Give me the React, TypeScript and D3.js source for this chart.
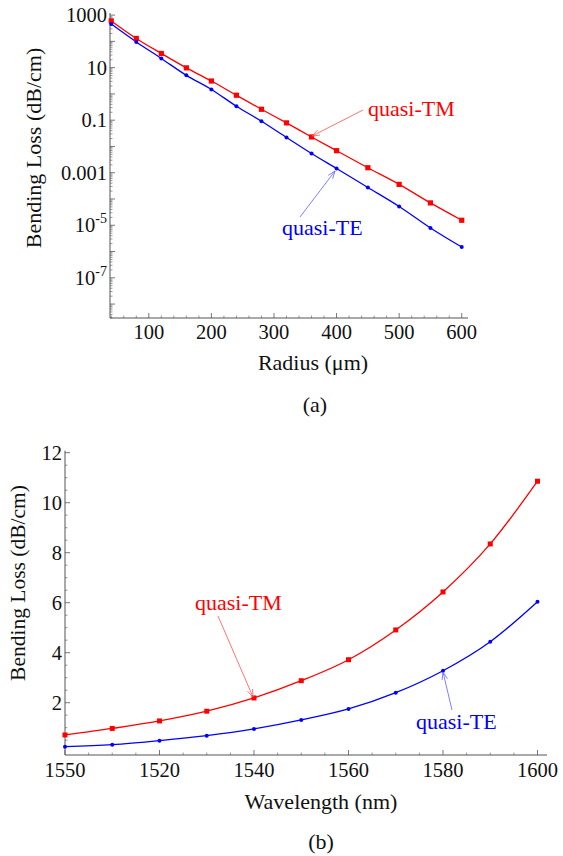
import React from "react";
import * as d3 from "d3";

// ---- Data: panel (a) ----
const radius = [40, 80, 120, 160, 200, 240, 280, 320, 360, 400, 450, 500, 550, 600];
const lossTM_a = [600, 129, 34.7, 9.8, 3.1, 0.89, 0.26, 0.079, 0.023, 0.0069, 0.00155, 3.6e-4, 7.1e-5, 1.55e-5];
const lossTE_a = [457, 95, 22.4, 5.1, 1.48, 0.34, 0.091, 0.022, 0.0054, 0.00145, 2.75e-4, 5.2e-5, 7.9e-6, 1.48e-6];
const radiusTicks = [100, 200, 300, 400, 500, 600];
const logLabelExps = [3, 1, -1, -3, -5, -7];

// ---- Data: panel (b) ----
const wavelength = [1500, 1510, 1520, 1530, 1540, 1550, 1560, 1570, 1580, 1590, 1600];
const lossTM_b = [0.71, 0.97, 1.27, 1.66, 2.19, 2.88, 3.72, 4.91, 6.43, 8.35, 10.86];
const lossTE_b = [0.24, 0.32, 0.48, 0.68, 0.95, 1.31, 1.75, 2.4, 3.28, 4.44, 6.04];
const wlTicks = [1500, 1520, 1540, 1560, 1580, 1600];
const wlTickLabels = ["1550", "1520", "1540", "1560", "1580", "1600"];
const lossTicks = [2, 4, 6, 8, 10, 12];

const FONT = '"Liberation Serif"';
const AX = "#555";
const RED = "#ff0000";
const BLUE = "#0000ff";

function T(props: any) {
  const { style, ...rest } = props;
  return <text fontFamily="Liberation Serif" {...rest} style={{ fontFamily: FONT, ...(style || {}) }} />;
}

function Arrow({ x1, y1, x2, y2, color }: { x1: number; y1: number; x2: number; y2: number; color: string }) {
  const ang = Math.atan2(y2 - y1, x2 - x1);
  const L = 8;
  const a = 0.35;
  const p1 = [x2 - L * Math.cos(ang - a), y2 - L * Math.sin(ang - a)];
  const p2 = [x2 - L * Math.cos(ang + a), y2 - L * Math.sin(ang + a)];
  return (
    <g stroke={color} strokeWidth={0.8} fill="none">
      <line x1={x1} y1={y1} x2={x2} y2={y2} />
      <polyline points={`${p1[0]},${p1[1]} ${x2},${y2} ${p2[0]},${p2[1]}`} />
    </g>
  );
}

function PanelA() {
  const x = d3.scaleLinear().domain([38, 610]).range([110, 468]);
  const y = d3.scaleLog().domain([Math.pow(10, -8.53), Math.pow(10, 3.08)]).range([318, 13]);
  const line = d3
    .line<number>()
    .x((_, i) => x(radius[i]))
    .curve(d3.curveMonotoneX);
  const tmPath = line.y((d) => y(d))(lossTM_a) || "";
  const tePath = line.y((d) => y(d))(lossTE_a) || "";
  const x0 = 110;
  const y0 = 318;
  const minorX = d3.range(40, 610, 20).filter((v) => v % 100 !== 0);
  const majorY: number[] = d3.range(-8, 4);
  const minorY: number[] = [];
  for (let e = -9; e <= 3; e++) {
    for (let m = 2; m <= 9; m++) {
      const v = m * Math.pow(10, e);
      if (y(v) <= y0 && y(v) >= 13) minorY.push(v);
    }
  }
  const labelFor = (e: number) => {
    if (e >= 0) return <tspan>{String(Math.pow(10, e))}</tspan>;
    if (e >= -3) return <tspan>{Math.pow(10, e).toFixed(-e)}</tspan>;
    return (
      <>
        <tspan>10</tspan>
        <tspan fontSize={14} dy={-9}>{`-${-e}`}</tspan>
      </>
    );
  };
  return (
    <g>
      <line x1={x0} y1={13} x2={x0} y2={y0} stroke={AX} strokeWidth={1} />
      <line x1={x0} y1={y0} x2={468} y2={y0} stroke={AX} strokeWidth={1} />
      {majorY.map((e) => (
        <line key={"my" + e} x1={x0} x2={x0 + 5} y1={y(Math.pow(10, e))} y2={y(Math.pow(10, e))} stroke={AX} strokeWidth={0.8} />
      ))}
      {minorY.map((v, i) => (
        <line key={"ny" + i} x1={x0} x2={x0 + 2.5} y1={y(v)} y2={y(v)} stroke={AX} strokeWidth={0.6} />
      ))}
      {radiusTicks.map((v) => (
        <line key={"mx" + v} x1={x(v)} x2={x(v)} y1={y0} y2={y0 - 5} stroke={AX} strokeWidth={0.8} />
      ))}
      {minorX.map((v) => (
        <line key={"nx" + v} x1={x(v)} x2={x(v)} y1={y0} y2={y0 - 2.5} stroke={AX} strokeWidth={0.6} />
      ))}
      {logLabelExps.map((e) => (
        <T key={"ly" + e} x={107} y={y(Math.pow(10, e)) + 7} textAnchor="end" fontSize={20.5} fill="#111">
          {labelFor(e)}
        </T>
      ))}
      {radiusTicks.map((v) => (
        <T key={"lx" + v} x={x(v)} y={339} textAnchor="middle" fontSize={20.5} fill="#111">
          {v}
        </T>
      ))}
      <path d={tmPath} fill="none" stroke={RED} strokeWidth={1.3} />
      <path d={tePath} fill="none" stroke={BLUE} strokeWidth={1.3} />
      {lossTM_a.map((d, i) => (
        <rect key={"tm" + i} x={x(radius[i]) - 2.6} y={y(d) - 2.6} width={5.2} height={5.2} fill={RED} />
      ))}
      {lossTE_a.map((d, i) => (
        <circle key={"te" + i} cx={x(radius[i])} cy={y(d)} r={2} fill={BLUE} />
      ))}
      <Arrow x1={363} y1={110} x2={312} y2={136} color="#ff5050" />
      <Arrow x1={300} y1={217} x2={335} y2={171} color="#6060ff" />
      <T x={368} y={116} fontSize={22} fill={RED}>quasi-TM</T>
      <T x={282} y={235} fontSize={22} fill={BLUE}>quasi-TE</T>
      <T transform="translate(41,148) rotate(-90)" textAnchor="middle" fontSize={22} fill="#111">
        Bending Loss (dB/cm)
      </T>
      <T x={313} y={370} textAnchor="middle" fontSize={22} fill="#111">Radius (μm)</T>
      <T x={315} y={412} textAnchor="middle" fontSize={22} fill="#111">(a)</T>
    </g>
  );
}

function PanelB() {
  const x = d3.scaleLinear().domain([1500, 1600]).range([65, 537.5]);
  const y = d3.scaleLinear().domain([0, 12]).range([752.7, 452.7]);
  const x0 = 65;
  const y0 = 755;
  const line = d3
    .line<number>()
    .x((_, i) => x(wavelength[i]))
    .curve(d3.curveMonotoneX);
  const tmPath = line.y((d) => y(d))(lossTM_b) || "";
  const tePath = line.y((d) => y(d))(lossTE_b) || "";
  const minorX = d3.range(1505, 1602, 5).filter((v) => v % 20 !== 0);
  const minorY = d3.range(0.5, 12.1, 0.5).filter((v) => Math.abs(v % 2) > 1e-6);
  return (
    <g>
      <line x1={x0} y1={450.7} x2={x0} y2={y0} stroke={AX} strokeWidth={1} />
      <line x1={x0} y1={y0} x2={547} y2={y0} stroke={AX} strokeWidth={1} />
      {lossTicks.map((v) => (
        <line key={"my" + v} x1={x0} x2={x0 + 5} y1={y(v)} y2={y(v)} stroke={AX} strokeWidth={0.8} />
      ))}
      {minorY.map((v) => (
        <line key={"ny" + v} x1={x0} x2={x0 + 2.5} y1={y(v)} y2={y(v)} stroke={AX} strokeWidth={0.6} />
      ))}
      {wlTicks.map((v) => (
        <line key={"mx" + v} x1={x(v)} x2={x(v)} y1={y0} y2={y0 - 5} stroke={AX} strokeWidth={0.8} />
      ))}
      {minorX.map((v) => (
        <line key={"nx" + v} x1={x(v)} x2={x(v)} y1={y0} y2={y0 - 2.5} stroke={AX} strokeWidth={0.6} />
      ))}
      {lossTicks.map((v) => (
        <T key={"ly" + v} x={62} y={y(v) + 7} textAnchor="end" fontSize={20.5} fill="#111">
          {v}
        </T>
      ))}
      {wlTicks.map((v, i) => (
        <T key={"lx" + v} x={x(v)} y={777} textAnchor="middle" fontSize={20.5} fill="#111">
          {wlTickLabels[i]}
        </T>
      ))}
      <path d={tmPath} fill="none" stroke={RED} strokeWidth={1.3} />
      <path d={tePath} fill="none" stroke={BLUE} strokeWidth={1.3} />
      {lossTM_b.map((d, i) => (
        <rect key={"tm" + i} x={x(wavelength[i]) - 2.5} y={y(d) - 2.5} width={5} height={5} fill={RED} />
      ))}
      {lossTE_b.map((d, i) => (
        <circle key={"te" + i} cx={x(wavelength[i])} cy={y(d)} r={2} fill={BLUE} />
      ))}
      <Arrow x1={218} y1={616} x2={253} y2={697} color="#ff5050" />
      <Arrow x1={452} y1={710} x2={443} y2={672} color="#6060ff" />
      <T x={195} y={610} fontSize={22} fill={RED}>quasi-TM</T>
      <T x={416} y={729} fontSize={22} fill={BLUE}>quasi-TE</T>
      <T transform="translate(25,583) rotate(-90)" textAnchor="middle" fontSize={21.5} fill="#111">
        Bending Loss (dB/cm)
      </T>
      <T x={321} y={809} textAnchor="middle" fontSize={22} fill="#111">Wavelength (nm)</T>
      <T x={321} y={849} textAnchor="middle" fontSize={22} fill="#111">(b)</T>
    </g>
  );
}

export default function App() {
  return (
    <svg
      width={563}
      height={856}
      viewBox="0 0 563 856"
      style={{ position: "absolute", left: 0, top: 0, background: "#fff" }}
    >
      <rect width={563} height={856} fill="#fff" />
      <PanelA />
      <PanelB />
    </svg>
  );
}
